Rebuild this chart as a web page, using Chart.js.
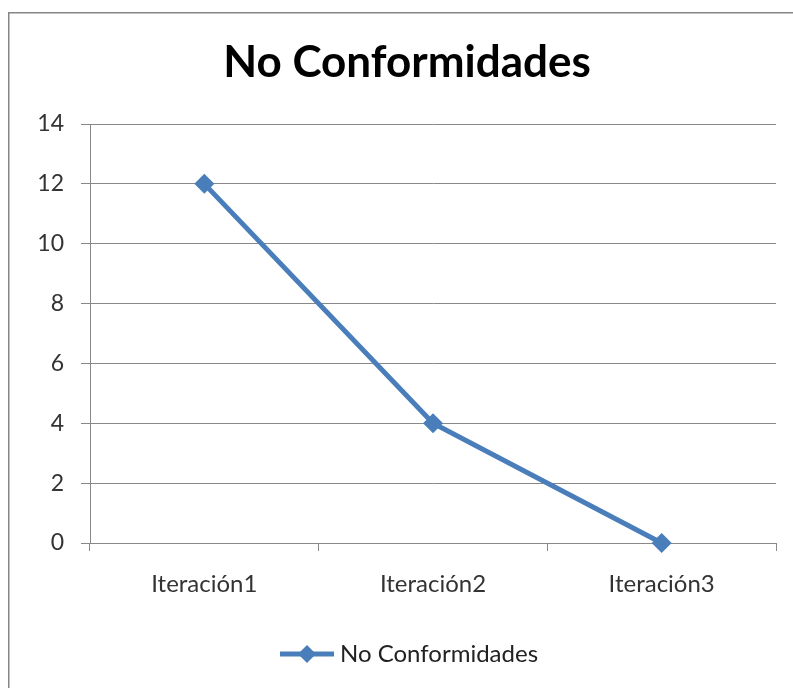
<!DOCTYPE html>
<html>
<head>
<meta charset="utf-8">
<script src="https://cdn.jsdelivr.net/npm/chart.js@4"></script>
<style>
html,body{margin:0;padding:0;background:#fff;}
#wrap{position:relative;width:793px;height:688px;}
</style>
</head>
<body>
<div id="wrap"><canvas id="c" width="793" height="688"></canvas></div>
<script>
const chartTitle = "No Conformidades";
const categories = ["Iteración1", "Iteración2", "Iteración3"];
const seriesName = "No Conformidades";
const seriesValues = [12, 4, 0];
const yTicks = [0, 2, 4, 6, 8, 10, 12, 14];

const FONT = "Lato, 'Open Sans', sans-serif";
const LINE_COLOR = "#4a7ebb";

const framePlugin = {
  id: 'frame',
  afterDraw(chart) {
    const ctx = chart.ctx;
    ctx.save();
    // outer border
    ctx.strokeStyle = '#868686';
    ctx.lineWidth = 1.5;
    ctx.beginPath();
    ctx.moveTo(8.75, 700);
    ctx.lineTo(8.75, 12.75);
    ctx.lineTo(800, 12.75);
    ctx.stroke();
    // title
    ctx.fillStyle = '#000';
    ctx.font = "bold 44px " + FONT;
    ctx.textAlign = 'center';
    ctx.textBaseline = 'alphabetic';
    ctx.fillText(chartTitle, 407, 77);
    // legend
    const ly = 654;
    ctx.strokeStyle = LINE_COLOR;
    ctx.lineWidth = 5;
    ctx.beginPath();
    ctx.moveTo(280, ly);
    ctx.lineTo(334, ly);
    ctx.stroke();
    ctx.fillStyle = LINE_COLOR;
    ctx.beginPath();
    ctx.moveTo(307, ly - 9);
    ctx.lineTo(316, ly);
    ctx.lineTo(307, ly + 9);
    ctx.lineTo(298, ly);
    ctx.closePath();
    ctx.fill();
    ctx.fillStyle = '#222';
    ctx.font = "24px " + FONT;
    ctx.textAlign = 'left';
    ctx.textBaseline = 'middle';
    ctx.fillText(seriesName, 340, ly);
    ctx.restore();
  }
};

new Chart(document.getElementById('c'), {
  type: 'line',
  data: {
    labels: categories,
    datasets: [{
      label: seriesName,
      data: seriesValues,
      borderColor: LINE_COLOR,
      backgroundColor: LINE_COLOR,
      borderWidth: 5,
      pointStyle: 'rectRot',
      pointRadius: 10,
      pointHoverRadius: 10,
      pointBorderWidth: 0,
      tension: 0,
      clip: false
    }]
  },
  options: {
    responsive: false,
    animation: false,
    events: [],
    layout: { padding: { top: 124, left: 0, right: 17, bottom: 0 } },
    plugins: {
      legend: { display: false },
      title: { display: false },
      tooltip: { enabled: false }
    },
    scales: {
      x: {
        offset: true,
        grid: { offset: true, drawOnChartArea: false, drawTicks: true, tickLength: 8, color: '#888' },
        border: { color: '#888', width: 1 },
        ticks: { color: '#333', font: { family: FONT, size: 24 }, padding: 19, maxRotation: 0 },
        afterFit(s) { s.height = 145; }
      },
      y: {
        min: 0, max: 14,
        afterBuildTicks(s) { s.ticks = yTicks.map(v => ({ value: v })); },
        grid: { color: '#888', tickLength: 9 },
        border: { color: '#888', width: 1 },
        ticks: { color: '#333', font: { family: FONT, size: 23 }, padding: 17 },
        afterFit(s) { s.width = 90; }
      }
    }
  },
  plugins: [framePlugin]
});
</script>
</body>
</html>
